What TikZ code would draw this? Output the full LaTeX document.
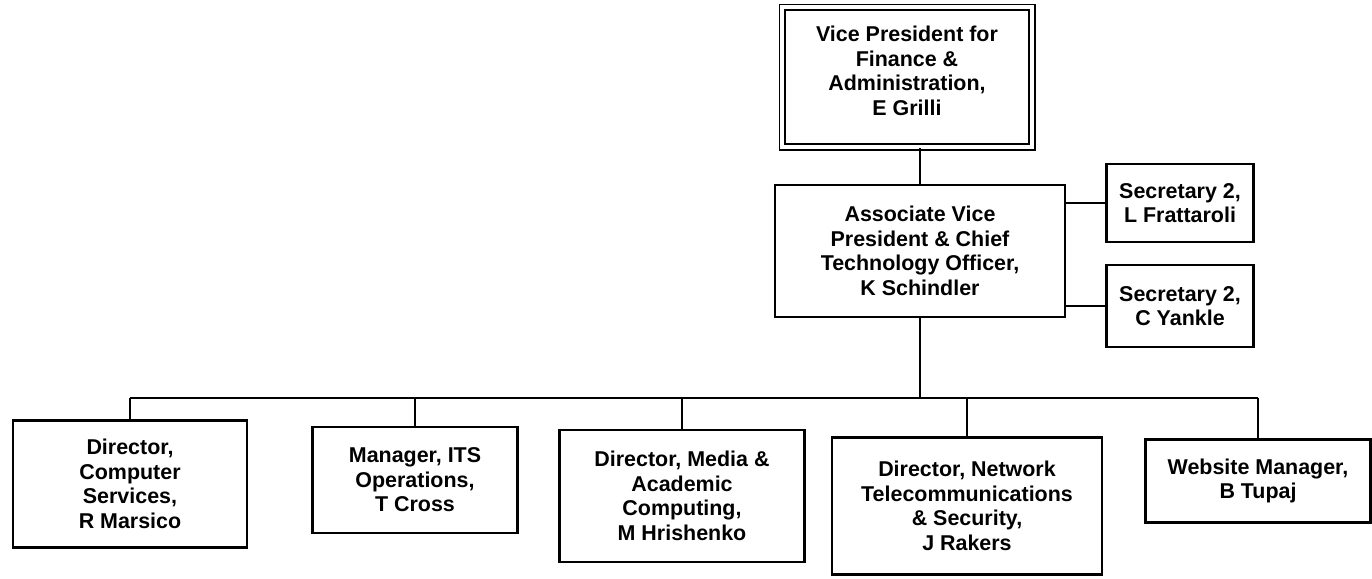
\documentclass[tikz,border=0pt]{standalone}
\usepackage{fontspec}
\setmainfont{Liberation Sans}
\usetikzlibrary{positioning}

\begin{document}
\begin{tikzpicture}[x=0.02cm, y=-0.02cm,
        post/.style={draw, rectangle, line width=1.2pt, align=center, inner sep=2pt,
            font=\bfseries\fontsize{12.2}{14}\selectfont},
        head/.style={post, double, double distance=2.2pt, line width=0.9pt},
        link/.style={line width=1pt}
    ]
    \useasboundingbox (0,0) rectangle (1372,578);

    % --- Top of the chart ---
    \node[head, minimum width=5cm, minimum height=2.8cm] (vp) at (907,77)
        {Vice President for\\ Finance \&\\ Administration,\\ E Grilli\\[-7pt]};
    \node[post, minimum width=5.8cm, minimum height=2.64cm] (avp) at (920,251)
        {Associate Vice\\ President \& Chief\\ Technology Officer,\\ K Schindler};

    % --- Secretaries ---
    \node[post, minimum width=2.94cm, minimum height=1.56cm] (sec1) at (1180,203)
        {Secretary 2,\\ L Frattaroli};
    \node[post, minimum width=2.94cm, minimum height=1.64cm] (sec2) at (1180,306)
        {Secretary 2,\\ C Yankle};

    % --- Directors and managers ---
    \node[post, minimum width=4.68cm, minimum height=2.54cm] (dcs) at (130,484)
        {Director,\\ Computer\\ Services,\\ R Marsico};
    \node[post, minimum width=4.1cm, minimum height=2.12cm] (mits) at (415,480)
        {Manager, ITS\\ Operations,\\ T Cross};
    \node[post, minimum width=4.9cm, minimum height=2.64cm] (dmac) at (682,496)
        {Director, Media \&\\ Academic\\ Computing,\\ M Hrishenko};
    \node[post, minimum width=5.4cm, minimum height=2.74cm] (dnts) at (967,506)
        {Director, Network\\ Telecommunications\\ \& Security,\\ J Rakers};
    \node[post, minimum width=4.5cm, minimum height=1.66cm] (wm) at (1258,481)
        {Website Manager,\\ B Tupaj};

    % --- Connectors ---
    \coordinate (bus) at (920,398);
    \draw[link] (avp.north) -- (avp.north |- vp.south);
    \draw[link] (sec1.west) -- (sec1.west -| avp.east);
    \draw[link] (sec2.west) -- (sec2.west -| avp.east);
    \draw[link] (avp.south) -- (bus);
    \draw[link] (dcs.north |- bus) -- (wm.north |- bus);
    \foreach \p in {dcs, mits, dmac, dnts, wm}
        \draw[link] (\p.north) -- (\p.north |- bus);

\end{tikzpicture}
\end{document}
